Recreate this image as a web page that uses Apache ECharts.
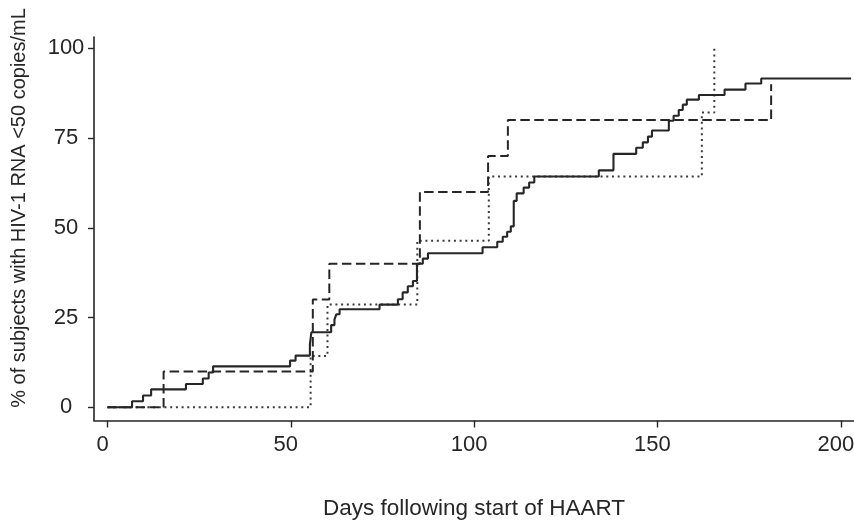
<!DOCTYPE html>
<html>
<head>
<meta charset="utf-8">
<script src="https://cdn.jsdelivr.net/npm/echarts@6/dist/echarts.min.js"></script>
<style>
html,body{margin:0;padding:0;background:#fff;}
#chart{width:854px;height:522px;}
</style>
</head>
<body>
<div id="chart"></div>
<script>
// Cumulative % of subjects with HIV-1 RNA < 50 copies/mL (step curves)
var solidDays = [0, 6.7, 9.7, 11.9, 21.4, 26, 27.6, 28.8, 49.8, 51.3, 55.2, 55.6, 61, 61.9, 62.4, 63.3, 74.2, 79.2, 80.5, 81.9, 83.3, 84.4, 86, 87.4, 102.3, 106.3, 107.8, 109.0, 110.0, 110.8, 111.6, 113.5, 115.0, 116.4, 134, 138, 144.2, 146, 147.4, 148.5, 153.1, 154.4, 155.8, 156.9, 158, 161.3, 168.3, 174, 178.3, 202.8];
var solidPct  = [0, 1.7, 3.3, 5, 6.5, 8, 9.7, 11.4, 13, 14.4, 17.5, 20.9, 22.9, 24.4, 25.9, 27.3, 28.6, 30.1, 32, 33.7, 35.2, 40, 41.4, 42.9, 44.6, 46.1, 47.5, 48.9, 50.4, 57.5, 59.6, 61.2, 62.6, 64.3, 66, 70.6, 72.3, 73.8, 75.4, 77.1, 79.8, 81.2, 82.8, 84.3, 85.7, 87, 88.5, 90.2, 91.6, 91.6];

var dashedDays = [0, 15.3, 56, 60.5, 85.2, 103.8, 109.2, 181];
var dashedPct  = [0, 10, 30, 40, 60, 70, 80, 90];

var dottedDays = [0, 55.4, 60, 84.5, 104, 162.1, 165.5];
var dottedPct  = [0, 14.3, 28.6, 46.4, 64.3, 82.1, 100];

var xTicks = [0, 50, 100, 150, 200];
var yTicks = [0, 25, 50, 75, 100];

var xTitle = 'Days following start of HAART';
var yTitle = '% of subjects with HIV-1 RNA <50 copies/mL';

function pairs(xs, ys) {
  return xs.map(function (x, i) { return [x, ys[i]]; });
}

var ink = '#262626';
var tickFont = "'Liberation Sans', Arial, sans-serif";
var titleFont = "'Liberation Sans', Arial, sans-serif";

var chart = echarts.init(document.getElementById('chart'), null, {renderer: 'canvas'});
chart.setOption({
  animation: false,
  backgroundColor: '#ffffff',
  grid: {left: 94, right: 0, top: 37, bottom: 101.5, containLabel: false, outerBoundsMode: 'none'},
  xAxis: {
    type: 'value',
    min: -3.68, max: 203.6,
    name: xTitle,
    nameLocation: 'middle',
    nameGap: 77,
    nameTextStyle: {fontFamily: titleFont, fontSize: 22.5, color: ink},
    axisLine: {show: true, onZero: false, lineStyle: {color: ink, width: 1.6}},
    axisTick: {show: true, customValues: xTicks, length: 7, lineStyle: {color: ink, width: 1.4}},
    axisLabel: {show: true, customValues: xTicks, margin: 13, fontFamily: tickFont, fontSize: 22, color: ink, padding: [0, 10, 0, 0]},
    splitLine: {show: false}
  },
  yAxis: {
    type: 'value',
    min: -3.68, max: 103.15,
    axisLine: {show: true, onZero: false, lineStyle: {color: ink, width: 1.6}},
    axisTick: {show: true, customValues: yTicks, length: 6, lineStyle: {color: ink, width: 1.4}},
    axisLabel: {show: true, customValues: yTicks, margin: 28, align: 'center', fontFamily: tickFont, fontSize: 22, color: ink},
    splitLine: {show: false}
  },
  graphic: [{
    type: 'text',
    x: 19, y: 208,
    rotation: Math.PI / 2,
    style: {text: yTitle, fontFamily: titleFont, fontSize: 20, fill: ink, align: 'center', verticalAlign: 'middle'}
  }],
  series: [
    {
      type: 'line', name: 'dotted', step: 'end', showSymbol: false, z: 2,
      data: pairs(dottedDays, dottedPct),
      lineStyle: {color: '#3a3a3a', width: 2, type: [2, 3.7], cap: 'butt'}
    },
    {
      type: 'line', name: 'dashed', step: 'end', showSymbol: false, z: 3,
      data: pairs(dashedDays, dashedPct),
      lineStyle: {color: ink, width: 2, type: [9.5, 4.5], cap: 'butt'}
    },
    {
      type: 'line', name: 'solid', step: 'end', showSymbol: false, z: 4,
      data: pairs(solidDays, solidPct),
      lineStyle: {color: ink, width: 2.1}
    }
  ]
});
</script>
</body>
</html>
